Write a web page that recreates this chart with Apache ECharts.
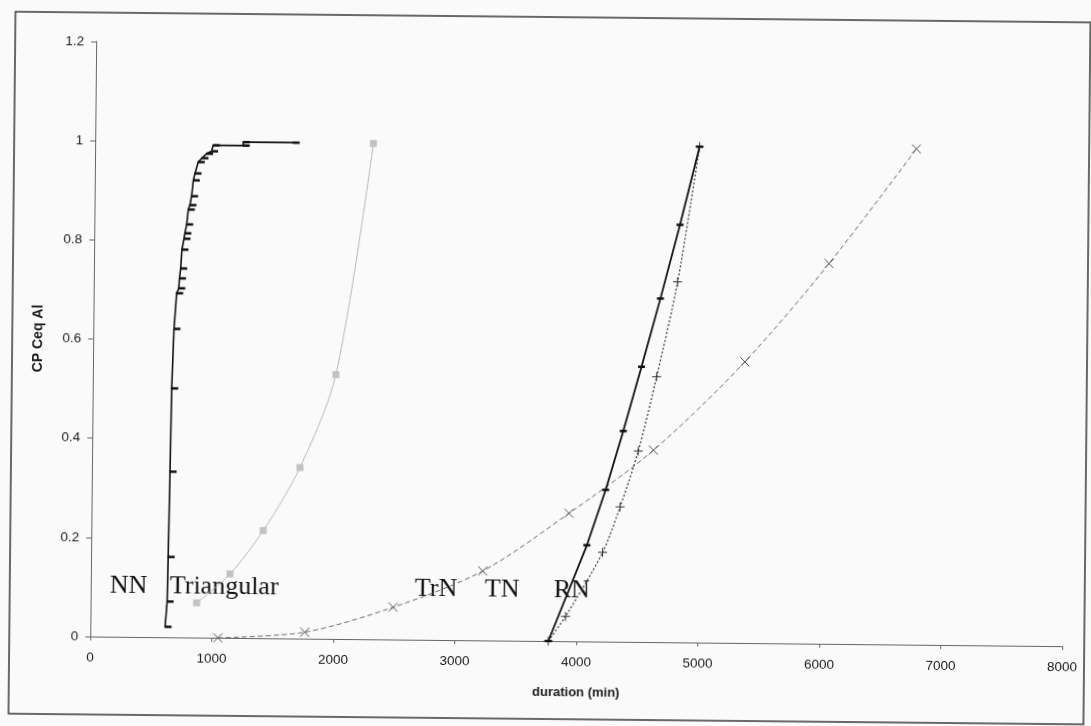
<!DOCTYPE html>
<html>
<head>
<meta charset="utf-8">
<title>CP Ceq Al vs duration</title>
<script src="https://cdn.jsdelivr.net/npm/echarts@6/dist/echarts.min.js"></script>
<style>
  html, body { margin: 0; padding: 0; background: #fafafa; overflow: hidden; }
  /* the scan is a little rotated clockwise */
  #chart { width: 1091px; height: 726px; transform: rotate(0.57deg); transform-origin: 50% 50%; }
</style>
</head>
<body>
<div id="chart"></div>
<script>
// values (duration in min, cumulative probability)
const nnX = [615, 630, 635, 643, 650, 664, 683, 700, 705, 714, 723, 739, 746, 760, 772, 785, 798, 811, 824, 850, 880, 918, 959, 972, 1219, 1219, 1630];
const nnY = [0.021, 0.072, 0.162, 0.334, 0.502, 0.622, 0.694, 0.704, 0.724, 0.744, 0.782, 0.804, 0.815, 0.833, 0.863, 0.872, 0.89, 0.922, 0.936, 0.959, 0.967, 0.976, 0.981, 0.993, 0.993, 1.0, 1.0];

const triX = [873, 1145, 1415, 1712, 2000, 2290];
const triY = [0.07, 0.129, 0.217, 0.345, 0.533, 1.0];

const trnX = [1050, 1765, 2490, 3225, 3930, 4620, 5365, 6050, 6760];
const trnY = [0, 0.013, 0.065, 0.14, 0.258, 0.387, 0.567, 0.767, 1.0];

const tnX = [3770, 4080, 4230, 4370, 4515, 4665, 4820, 4975];
const tnY = [0, 0.194, 0.306, 0.425, 0.555, 0.693, 0.842, 1.0];

const rnX = [3770, 3910, 4210, 4350, 4495, 4640, 4805, 4975];
const rnY = [0, 0.05, 0.18, 0.272, 0.385, 0.535, 0.727, 1.0];

const xTicks = [0, 1000, 2000, 3000, 4000, 5000, 6000, 7000, 8000];
const yTicks = [0, 0.2, 0.4, 0.6, 0.8, 1, 1.2];
const curveNames = ['NN', 'Triangular', 'TrN', 'TN', 'RN'];

function pairs(xs, ys) {
  return xs.map((x, i) => [x, ys[i]]);
}

const crossMark = 'path://M0,0L10,10M10,0L0,10';
const plusMark = 'path://M5,0L5,10M0,5L10,5';

const chart = echarts.init(document.getElementById('chart'));

const sansFont = '"Liberation Sans", Arial, sans-serif';
const serifFont = '"Liberation Serif", "Times New Roman", serif';

function curveLabel(name, x) {
  return {
    type: 'text',
    x: x,
    y: 590,
    style: {
      text: name,
      font: '26px ' + serifFont,
      fill: '#111',
      textAlign: 'left',
      verticalAlign: 'middle',
      textVerticalAlign: 'middle'
    }
  };
}

const option = {
  animation: false,
  backgroundColor: '#fafafa',
  grid: { left: 93, right: 26, top: 46, bottom: 85 },
  xAxis: {
    type: 'value',
    min: xTicks[0],
    max: xTicks[xTicks.length - 1],
    interval: 1000,
    name: 'duration (min)',
    nameLocation: 'middle',
    nameGap: 45,
    nameTextStyle: { fontFamily: sansFont, fontWeight: 'bold', fontSize: 13, color: '#1a1a1a' },
    axisLine: { lineStyle: { color: '#666', width: 1 } },
    axisTick: { length: 4, lineStyle: { color: '#666' } },
    axisLabel: {
      fontFamily: sansFont, fontSize: 13.5, color: '#1a1a1a', margin: 14,
      formatter: v => String(v)
    },
    splitLine: { show: false }
  },
  yAxis: {
    type: 'value',
    min: yTicks[0],
    max: yTicks[yTicks.length - 1],
    interval: 0.2,
    name: 'CP Ceq Al',
    nameLocation: 'middle',
    nameGap: 48,
    nameRotate: 90,
    nameTextStyle: { fontFamily: sansFont, fontWeight: 'bold', fontSize: 14, color: '#1a1a1a' },
    axisLine: { show: true, lineStyle: { color: '#666', width: 1 } },
    axisTick: { show: true, length: 5, lineStyle: { color: '#666' } },
    axisLabel: {
      fontFamily: sansFont, fontSize: 13.5, color: '#1a1a1a', margin: 12,
      formatter: v => String(+v.toFixed(1))
    },
    splitLine: { show: false }
  },
  graphic: [
    {
      type: 'rect',
      shape: { x: 12, y: 17, width: 1075, height: 702 },
      style: { fill: 'none', stroke: '#3a3a3a', lineWidth: 1.5 },
      z: -1
    },
    curveLabel(curveNames[0], 112),
    curveLabel(curveNames[1], 172),
    curveLabel(curveNames[2], 417),
    curveLabel(curveNames[3], 487),
    curveLabel(curveNames[4], 556)
  ],
  series: [
    {
      name: curveNames[2],
      type: 'line',
      data: pairs(trnX, trnY),
      smooth: 0.3,
      showAllSymbol: true,
      symbol: crossMark,
      symbolSize: 9,
      clip: false,
      lineStyle: { color: '#6a6a6a', width: 1, type: [5, 3] },
      itemStyle: { color: 'none', borderColor: '#555', borderWidth: 1 }
    },
    {
      name: curveNames[1],
      type: 'line',
      data: pairs(triX, triY),
      smooth: 0.3,
      showAllSymbol: true,
      symbol: 'rect',
      symbolSize: 7,
      clip: false,
      lineStyle: { color: '#b8b8b8', width: 1 },
      itemStyle: { color: '#c2c2c2', borderWidth: 0 }
    },
    {
      name: curveNames[4],
      type: 'line',
      data: pairs(rnX, rnY),
      smooth: 0.3,
      showAllSymbol: true,
      symbol: plusMark,
      symbolSize: 9,
      clip: false,
      lineStyle: { color: '#444', width: 1.3, type: [2, 2] },
      itemStyle: { color: 'none', borderColor: '#333', borderWidth: 1 }
    },
    {
      name: curveNames[3],
      type: 'line',
      data: pairs(tnX, tnY),
      showAllSymbol: true,
      symbol: 'rect',
      symbolSize: [7, 2.5],
      clip: false,
      lineStyle: { color: '#111', width: 1.8 },
      itemStyle: { color: '#111', borderWidth: 0 }
    },
    {
      name: curveNames[0],
      type: 'line',
      data: pairs(nnX, nnY),
      showAllSymbol: true,
      symbol: 'rect',
      symbolSize: [7, 2.5],
      symbolOffset: [3, 0],
      clip: false,
      lineStyle: { color: '#111', width: 1.6 },
      itemStyle: { color: '#111', borderWidth: 0 }
    }
  ]
};

chart.setOption(option);
</script>
</body>
</html>
